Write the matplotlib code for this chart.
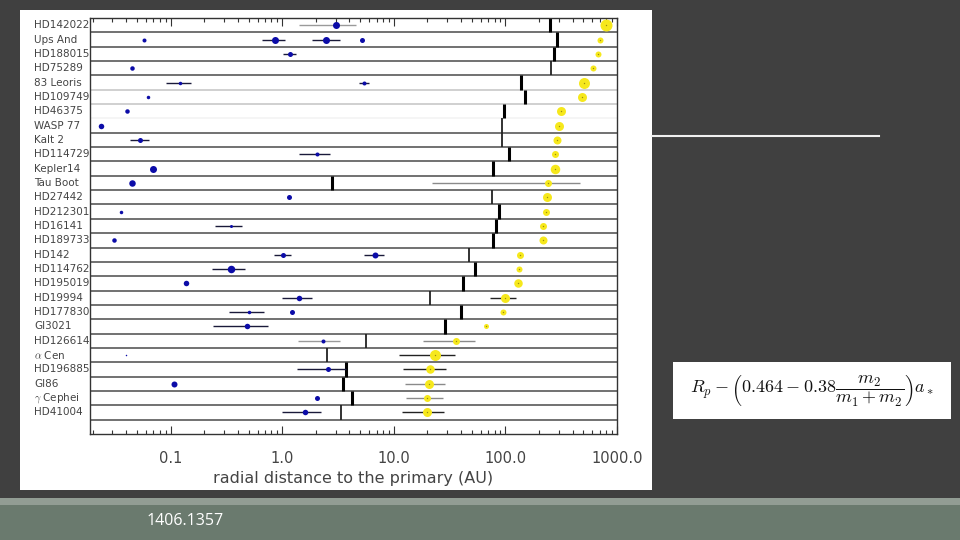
import matplotlib
matplotlib.use("Agg")
import matplotlib.pyplot as plt
from matplotlib.patches import Rectangle
from matplotlib.ticker import FixedLocator, LogLocator, NullFormatter
import matplotlib.transforms as mtransforms

# ---------------- data ----------------
systems = ["HD142022", "Ups And", "HD188015", "HD75289", "83 Leoris", "HD109749",
           "HD46375", "WASP 77", "Kalt 2", "HD114729", "Kepler14", "Tau Boot",
           "HD27442", "HD212301", "HD16141", "HD189733", "HD142", "HD114762",
           "HD195019", "HD19994", "HD177830", "Gl3021", "HD126614", r"$\alpha$ Cen",
           "HD196885", "Gl86", r"$\gamma$ Cephei", "HD41004"]

# planets: row index, semi-major axis (AU), error range, relative size class (px)
planet_row = [0, 1, 1, 1, 1, 2, 3, 4, 4, 5, 6, 7, 8, 9, 10, 11, 12, 13, 14, 15,
              16, 16, 17, 18, 19, 20, 20, 21, 22, 23, 24, 25, 26, 27]
planet_a = [3.0, 0.058, 0.853, 2.49, 5.21, 1.18, 0.0453, 0.121, 5.35, 0.063,
            0.0402, 0.0237, 0.0534, 2.06, 0.0689, 0.0453, 1.15, 0.0356, 0.344, 0.031,
            1.01, 6.76, 0.346, 0.137, 1.41, 0.506, 1.21, 0.486, 2.33, 0.0394,
            2.56, 0.108, 2.03, 1.61]
planet_lo = [1.40, None, 0.656, 1.86, None, 1.01, None, 0.0913, 4.86, None,
             None, None, 0.0428, 1.41, None, None, None, None, 0.251, None,
             0.836, 5.35, 0.234, None, 0.99, 0.33, None, 0.239, 1.38, None,
             1.35, None, None, 0.99]
planet_hi = [4.54, None, 1.06, 3.27, None, 1.33, None, 0.153, 5.94, None,
             None, None, 0.0636, 2.69, None, None, None, None, 0.435, None,
             1.19, 8.14, 0.466, None, 1.83, 0.68, None, 0.739, 3.31, None,
             3.7, None, None, 2.24]
planet_size = [7, 4, 7, 7, 5, 5, 4.5, 3.5, 4, 3.5, 4.5, 5.5, 5, 4, 7, 6.5, 5, 3.5,
               3, 4.5, 5, 6, 7.5, 5.5, 5.5, 3.5, 5, 5.5, 4, 1.5, 5, 6, 5, 5.5]
planet_err_gray = [0, 28]  # indices with gray error bars

# stability limit (black bar) per system, AU
stab_a = [252, 291, 275, 257, 139, 150, 98, 93, 93.8, 107, 78, 2.8, 75.5, 87,
          82.7, 78, 47, 53.2, 41.3, 21.2, 39.6, 28.9, 5.61, 2.51, 3.74, 3.47,
          4.24, 3.35]
stab_thin = [3, 7, 8, 12, 16, 19, 22, 23, 27]

# stellar companion per system, AU
comp_a = [789, 697, 678, 612, 511, 484, 314, 303, 291, 279, 279, 243, 238, 229,
          218, 215, 136, 132, 129, 99.6, 96, 66.7, 36, 23.3, 20.9, 20.7, 19.9, 19.8]
comp_lo = [None] * 11 + [21.9] + [None] * 7 + [73.2, None, None, 18.2, 11.2,
                                               12.2, 12.6, 12.9, 11.9]
comp_hi = [None] * 11 + [467] + [None] * 7 + [125, None, None, 53.4, 35.5,
                                              29.4, 28.9, 27.5, 27.9]
comp_size = [12, 6, 6, 6, 11, 9, 9, 9, 8, 7, 9.5, 7, 9, 7, 7, 8, 7, 6, 8.5, 9,
             6, 5, 7, 11, 8.5, 9, 7, 9]
comp_err_gray = [11, 22, 25, 26]

light_sep = {4: "#c4c4c4", 5: "#c4c4c4", 6: "#f2f2f2"}

xticks = [0.1, 1.0, 10.0, 100.0, 1000.0]
xticklabels = ["0.1", "1.0", "10.0", "100.0", "1000.0"]

# ---------------- figure ----------------
W, H = 960, 540
fig = plt.figure(figsize=(9.6, 5.4), dpi=100)
fig.patch.set_facecolor("#404040")

def frect(x0, y0, x1, y1, **kw):
    fig.patches.append(Rectangle((x0 / W, 1 - y1 / H), (x1 - x0) / W, (y1 - y0) / H,
                                 transform=fig.transFigure, zorder=-5, **kw))

# white panel
frect(20, 10, 652, 490, facecolor="white", edgecolor="none")
# bottom band
frect(0, 498, 960, 505, facecolor="#929d94", edgecolor="none")
frect(0, 505, 960, 540, facecolor="#6a7a6e", edgecolor="none")
fig.text(185 / W, 1 - 521 / H, "1406.1357", color="white", fontsize=11.5,
         family="Open Sans", ha="center", va="center")
# right-hand line
fig.add_artist(plt.Line2D([652 / W, 879 / W], [1 - 136 / H, 1 - 136 / H],
                          transform=fig.transFigure, color="#f0f0f0", lw=1.5))
# equation box
frect(673, 362, 951, 419, facecolor="white", edgecolor="none")
plt.rcParams["mathtext.fontset"] = "cm"
fig.text(812 / W, 1 - 390 / H,
         r"$R_p - \left(0.464 - 0.38\dfrac{m_2}{m_1+m_2}\right)a_*$",
         fontsize=13, ha="center", va="center", color="#111111")

ax = fig.add_axes([90 / W, 1 - 434 / H, 527 / W, 416 / H])
ax.set_zorder(3)
ax.set_facecolor("white")
ax.set_xscale("log")
ax.set_xlim(0.0189, 1000)
ax.set_ylim(len(systems) + 0.5, -0.5)

# separators
for i in range(len(systems)):
    ax.axhline(i + 0.5, color=light_sep.get(i, "#4a4a4a"), lw=1.1, zorder=1)

# stability bars
for i, a in enumerate(stab_a):
    thin = i in stab_thin
    ax.vlines(a, i - 0.5, i + 0.5, color="#222222" if thin else "black",
              lw=1.3 if thin else 2.2, zorder=2)

# companions
ycol = "#f6e81c"
for i, a in enumerate(comp_a):
    if comp_lo[i] is not None:
        ax.hlines(i, comp_lo[i], comp_hi[i],
                  color="#8a8a8a" if i in comp_err_gray else "#222222",
                  lw=1.0, zorder=3)
    ax.plot(a, i, "o", ms=comp_size[i] * 0.72, color=ycol, mec="none", zorder=4)
    ax.plot(a, i, "o", ms=1.0, color="#9a8c10", mec="none", zorder=5)

# planets
bcol = "#0c0ca8"
for k, a in enumerate(planet_a):
    r = planet_row[k]
    if planet_lo[k] is not None:
        ax.hlines(r, planet_lo[k], planet_hi[k],
                  color="#9a9a9a" if k in planet_err_gray else "#1a1a3a",
                  lw=1.0, zorder=3)
    ax.plot(a, r, "o", ms=planet_size[k] * 0.72, color=bcol, mec="none", zorder=4)

# axes styling
ax.set_yticks([])
for s in ax.spines.values():
    s.set_color("#333333")
    s.set_linewidth(1.0)
ax.xaxis.set_major_locator(FixedLocator(xticks))
ax.set_xticklabels(xticklabels)
ax.xaxis.set_minor_locator(LogLocator(base=10, subs=range(2, 10), numticks=20))
ax.xaxis.set_minor_formatter(NullFormatter())
ax.tick_params(axis="x", which="major", direction="in", top=True, bottom=True,
               length=6, width=0.8, color="#333333", labelsize=10.5,
               labelcolor="#444444", pad=12)
ax.tick_params(axis="x", which="minor", direction="in", top=True, bottom=True,
               length=3, width=0.8, color="#333333")
ax.set_xlabel("radial distance to the primary (AU)", fontsize=11.5,
              color="#444444", labelpad=4)

# row labels
trans = mtransforms.blended_transform_factory(fig.transFigure, ax.transData)
for i, name in enumerate(systems):
    ax.text(34 / W, i, name, transform=trans, ha="left", va="center",
            fontsize=7.5, color="#444444", clip_on=False)

fig.savefig("out.png", dpi=100, facecolor=fig.get_facecolor())
